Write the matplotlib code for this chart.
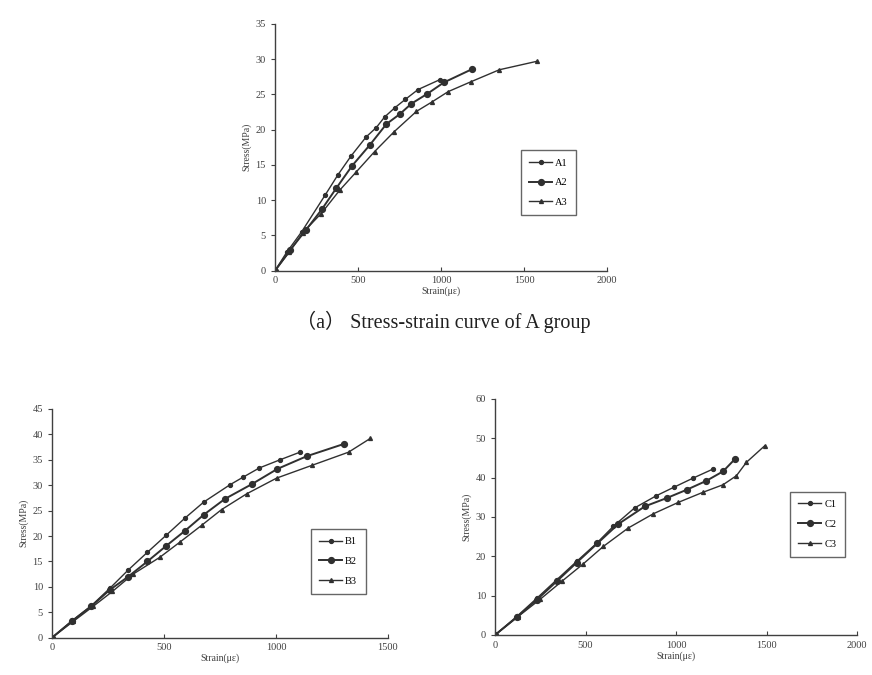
import matplotlib
matplotlib.use("Agg")
import matplotlib.pyplot as plt

plt.rcParams['font.family'] = ['Liberation Serif', 'Noto Sans CJK SC', 'DejaVu Sans']

# ---- A group ----
a1_x = [0, 70, 160, 304, 379, 459, 550, 610, 660, 721, 785, 862, 993]
a1_y = [0, 2.6, 5.5, 10.8, 13.6, 16.3, 19.0, 20.3, 21.8, 23.1, 24.3, 25.7, 27.1]
a2_x = [0, 90, 187, 282, 369, 465, 570, 671, 751, 822, 918, 1017, 1188]
a2_y = [0, 2.9, 5.8, 8.7, 11.7, 14.9, 17.8, 20.8, 22.2, 23.7, 25.1, 26.7, 28.6]
a3_x = [0, 85, 167, 278, 389, 489, 600, 717, 852, 943, 1043, 1180, 1351, 1577]
a3_y = [0, 2.6, 5.4, 8.1, 11.4, 14.0, 16.9, 19.7, 22.6, 23.9, 25.4, 26.8, 28.5, 29.7]

# ---- B group ----
b1_x = [0, 91, 176, 258, 340, 426, 511, 593, 678, 795, 854, 926, 1018, 1107]
b1_y = [0, 3.4, 6.3, 9.7, 13.3, 16.8, 20.2, 23.5, 26.7, 30.1, 31.6, 33.4, 35.0, 36.5]
b2_x = [0, 91, 176, 258, 340, 426, 511, 593, 678, 772, 892, 1006, 1137, 1302]
b2_y = [0, 3.3, 6.2, 9.4, 12.0, 15.0, 18.1, 21.0, 24.2, 27.3, 30.2, 33.2, 35.7, 38.1]
b3_x = [0, 95, 185, 270, 362, 481, 571, 668, 757, 869, 1003, 1160, 1324, 1421]
b3_y = [0, 3.2, 6.2, 9.1, 12.5, 15.8, 18.8, 22.1, 25.2, 28.3, 31.4, 33.9, 36.5, 39.2]

# ---- C group ----
c1_x = [0, 120, 230, 340, 451, 561, 653, 771, 891, 990, 1095, 1205]
c1_y = [0, 4.7, 9.3, 14.0, 18.7, 23.3, 27.6, 32.3, 35.4, 37.6, 39.9, 42.2]
c2_x = [0, 120, 230, 340, 451, 566, 681, 828, 948, 1058, 1168, 1260, 1325]
c2_y = [0, 4.5, 8.9, 13.6, 18.4, 23.3, 28.2, 32.7, 34.8, 36.9, 39.2, 41.6, 44.7]
c3_x = [0, 125, 250, 368, 488, 598, 736, 874, 1012, 1150, 1260, 1334, 1389, 1490]
c3_y = [0, 4.6, 9.1, 13.6, 18.1, 22.5, 27.2, 30.8, 33.7, 36.3, 38.2, 40.5, 43.9, 48.1]

line_c = '#303030'
fig = plt.figure(figsize=(8.72, 6.75), dpi=100)


def style_axes(ax, xmax, ymax, ystep, xstep):
    ax.set_xlim(0, xmax)
    ax.set_ylim(0, ymax)
    ax.set_xticks(range(0, xmax + 1, xstep))
    ax.set_yticks(range(0, ymax + 1, ystep))
    for s in ['top', 'right']:
        ax.spines[s].set_visible(False)
    for s in ['left', 'bottom']:
        ax.spines[s].set_color('#404040')
        ax.spines[s].set_linewidth(1.0)
    ax.tick_params(axis='x', direction='in', length=3, labelsize=7.5, colors='#404040', pad=4)
    ax.tick_params(axis='y', direction='out', length=3, labelsize=7.5, colors='#404040')
    ax.set_xlabel('Strain(με)', fontsize=7, labelpad=1, color='#404040')
    ax.set_ylabel('Stress(MPa)', fontsize=7, labelpad=3, color='#404040')


def draw(ax, xs, ys, labels):
    ax.plot(xs[0], ys[0], color=line_c, lw=1.0, marker='o', ms=2.8, label=labels[0])
    ax.plot(xs[1], ys[1], color=line_c, lw=1.4, marker='o', ms=4.2, label=labels[1])
    ax.plot(xs[2], ys[2], color=line_c, lw=1.0, marker='^', ms=2.8, label=labels[2])


def legend(ax, loc):
    lg = ax.legend(loc='upper left', bbox_to_anchor=loc, fontsize=7.5, frameon=True,
                   fancybox=False, shadow=False, handlelength=2.2, labelspacing=1.0,
                   borderpad=0.8, handletextpad=0.3)
    lg.get_frame().set_edgecolor('#404040')
    lg.get_frame().set_linewidth(1.0)


# top: A group
ax_a = fig.add_axes([0.3154, 0.599, 0.3807, 0.3655])
draw(ax_a, [a1_x, a2_x, a3_x], [a1_y, a2_y, a3_y], ['A1', 'A2', 'A3'])
style_axes(ax_a, 2000, 35, 5, 500)
legend(ax_a, (0.725, 0.51))

# bottom left: B group
ax_b = fig.add_axes([0.0596, 0.0553, 0.3853, 0.3388])
draw(ax_b, [b1_x, b2_x, b3_x], [b1_y, b2_y, b3_y], ['B1', 'B2', 'B3'])
style_axes(ax_b, 1500, 45, 5, 500)
legend(ax_b, (0.755, 0.50))

# bottom right: C group
ax_c = fig.add_axes([0.5677, 0.0593, 0.4151, 0.3496])
draw(ax_c, [c1_x, c2_x, c3_x], [c1_y, c2_y, c3_y], ['C1', 'C2', 'C3'])
style_axes(ax_c, 2000, 60, 10, 500)
legend(ax_c, (0.80, 0.63))

fig.text(0.508, 0.523, '（a） Stress-strain curve of A group', ha='center', va='center',
         fontsize=14.5, color='#202020')

fig.savefig('out.png', dpi=100)
